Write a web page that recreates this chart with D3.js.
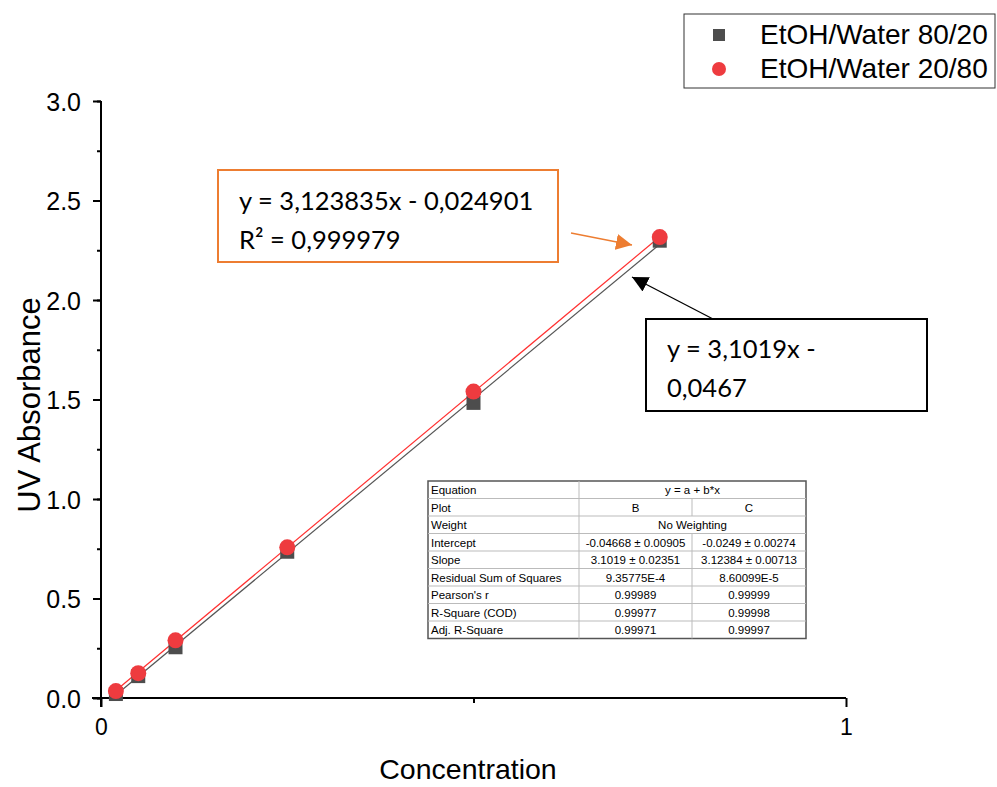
<!DOCTYPE html>
<html>
<head>
<meta charset="utf-8">
<script src="https://cdn.jsdelivr.net/npm/d3@7"></script>
<style>
  body { margin: 0; background: #fff; }
  svg { display: block; }
</style>
</head>
<body>
<svg id="chart" width="997" height="787"></svg>
<script>
// Calibration data: concentration vs UV absorbance for two solvent mixtures
const concentration = [0.02, 0.05, 0.1, 0.25, 0.5, 0.75];
const absorbance8020 = [0.02, 0.11, 0.255, 0.735, 1.483, 2.298];
const absorbance2080 = [0.035, 0.125, 0.29, 0.757, 1.54, 2.316];
const seriesNames = ["EtOH/Water 80/20", "EtOH/Water 20/80"];
const fitSlope = [3.1019, 3.123835];
const fitIntercept = [-0.0467, -0.024901];
const yTicks = [0, 0.5, 1.0, 1.5, 2.0, 2.5, 3.0];
const xTickLabels = [0, 1];

// Linear-fit summary table
const tableRows = [
  ["Equation", "y = a + b*x", null],
  ["Plot", "B", "C"],
  ["Weight", "No Weighting", null],
  ["Intercept", "-0.04668 \u00b1 0.00905", "-0.0249 \u00b1 0.00274"],
  ["Slope", "3.1019 \u00b1 0.02351", "3.12384 \u00b1 0.00713"],
  ["Residual Sum of Squares", "9.35775E-4", "8.60099E-5"],
  ["Pearson's r", "0.99989", "0.99999"],
  ["R-Square (COD)", "0.99977", "0.99998"],
  ["Adj. R-Square", "0.99971", "0.99997"]
];

const colors = { s1: "#4d4d4d", s2: "#ee3b3f", line1: "#555555", line2: "#ff3030" };

const svg = d3.select("#chart");
const x = d3.scaleLinear().domain([0, 1]).range([101, 846]);
const y = d3.scaleLinear().domain([0, 3]).range([698, 101]);

const axisFont = "'Liberation Sans', Arial, sans-serif";
const noteFont = "Lato, 'Open Sans', sans-serif";

// Y axis with major and minor ticks
const yMinor = svg.append("g").attr("transform", `translate(${x(0)},0)`)
  .call(d3.axisLeft(y).tickValues(d3.range(0, 3.001, 0.25)).tickSize(4).tickFormat(""));
yMinor.select(".domain").remove();
const yMajor = svg.append("g").attr("transform", `translate(${x(0)},0)`)
  .call(d3.axisLeft(y).tickValues(yTicks).tickSize(8).tickPadding(12).tickFormat(d3.format(".1f")));
yMajor.selectAll("text").attr("font-family", axisFont).attr("font-size", 25).attr("fill", "#000")
  .attr("dy", "0.36em");
yMajor.select(".domain").remove();
svg.append("line").attr("x1", x(0)).attr("x2", x(0)).attr("y1", y(3)).attr("y2", y(0) + 9)
  .attr("stroke", "#000").attr("stroke-width", 2);

// X axis
const xMinor = svg.append("g").attr("transform", `translate(0,${y(0)})`)
  .call(d3.axisBottom(x).tickValues([0.5]).tickSize(5).tickFormat(""));
xMinor.select(".domain").remove();
const xMajor = svg.append("g").attr("transform", `translate(0,${y(0)})`)
  .call(d3.axisBottom(x).tickValues(xTickLabels).tickSize(9).tickPadding(12).tickFormat(d3.format("d")));
xMajor.select(".domain").remove();
xMajor.selectAll("text").attr("font-family", axisFont).attr("font-size", 23).attr("fill", "#000");
svg.selectAll(".tick line").attr("stroke", "#000").attr("stroke-width", 2);
svg.append("line").attr("x1", x(0) - 9).attr("x2", x(1)).attr("y1", y(0)).attr("y2", y(0))
  .attr("stroke", "#000").attr("stroke-width", 2);

// Axis titles
svg.append("text").attr("x", 468).attr("y", 779).attr("text-anchor", "middle")
  .attr("font-family", axisFont).attr("font-size", 28.5).text("Concentration");
svg.append("text").attr("transform", `translate(40,405) rotate(-90)`).attr("text-anchor", "middle")
  .attr("font-family", axisFont).attr("font-size", 31).text("UV Absorbance");

// Fit lines
const xMin = d3.min(concentration), xMax = d3.max(concentration);
[[0, colors.line1], [1, colors.line2]].forEach(([i, c]) => {
  svg.append("line")
    .attr("x1", x(xMin)).attr("y1", y(fitSlope[i] * xMin + fitIntercept[i]))
    .attr("x2", x(xMax)).attr("y2", y(fitSlope[i] * xMax + fitIntercept[i]))
    .attr("stroke", c).attr("stroke-width", 1.2);
});

// Markers
svg.append("g").selectAll("rect").data(concentration).join("rect")
  .attr("x", (d) => x(d) - 7).attr("y", (d, i) => y(absorbance8020[i]) - 7)
  .attr("width", 14).attr("height", 14).attr("fill", colors.s1);
svg.append("g").selectAll("circle").data(concentration).join("circle")
  .attr("cx", (d) => x(d)).attr("cy", (d, i) => y(absorbance2080[i]))
  .attr("r", 8).attr("fill", colors.s2);

// Legend
svg.append("rect").attr("x", 684).attr("y", 14).attr("width", 311).attr("height", 74)
  .attr("fill", "#fff").attr("stroke", "#333").attr("stroke-width", 1);
svg.append("rect").attr("x", 713).attr("y", 29).attr("width", 12).attr("height", 12).attr("fill", colors.s1);
svg.append("circle").attr("cx", 719).attr("cy", 69).attr("r", 7).attr("fill", colors.s2);
seriesNames.forEach((n, i) => {
  svg.append("text").attr("x", 760).attr("y", 44 + i * 34).attr("font-family", axisFont)
    .attr("font-size", 28).attr("fill", "#000").text(n);
});

// Arrowheads
const defs = svg.append("defs");
[["arrOrange", "#ed7d31"], ["arrBlack", "#000"]].forEach(([id, c]) => {
  defs.append("marker").attr("id", id).attr("viewBox", "0 0 10 10").attr("refX", 10).attr("refY", 5)
    .attr("markerWidth", 16).attr("markerHeight", 16).attr("markerUnits", "userSpaceOnUse")
    .attr("orient", "auto")
    .append("path").attr("d", "M0,0 L10,5 L0,10 Z").attr("fill", c);
});

// Annotation: 20/80 fit
svg.append("rect").attr("x", 218).attr("y", 170).attr("width", 340).attr("height", 92)
  .attr("fill", "#fff").attr("stroke", "#ed7d31").attr("stroke-width", 2);
svg.append("text").attr("x", 239).attr("y", 210).attr("font-family", noteFont).attr("font-size", 25.5)
  .text(`y = ${fitSlope[1].toFixed(6).replace(".", ",")}x - ${Math.abs(fitIntercept[1]).toFixed(6).replace(".", ",")}`);
svg.append("text").attr("x", 239).attr("y", 249).attr("font-family", noteFont).attr("font-size", 25.5)
  .text("R\u00b2 = 0,999979");
svg.append("line").attr("x1", 571).attr("y1", 233).attr("x2", 632).attr("y2", 245)
  .attr("stroke", "#ed7d31").attr("stroke-width", 1.3).attr("marker-end", "url(#arrOrange)");

// Annotation: 80/20 fit
svg.append("rect").attr("x", 646).attr("y", 319).attr("width", 281).attr("height", 92)
  .attr("fill", "#fff").attr("stroke", "#000").attr("stroke-width", 2);
svg.append("text").attr("x", 667).attr("y", 358).attr("font-family", noteFont).attr("font-size", 25.5)
  .text(`y = ${String(fitSlope[0]).replace(".", ",")}x -`);
svg.append("text").attr("x", 667).attr("y", 397).attr("font-family", noteFont).attr("font-size", 25.5)
  .text(`${Math.abs(fitIntercept[0]).toFixed(4).replace(".", ",")}`);
svg.append("line").attr("x1", 713).attr("y1", 319).attr("x2", 632).attr("y2", 277)
  .attr("stroke", "#000").attr("stroke-width", 1.3).attr("marker-end", "url(#arrBlack)");

// Summary table
const tX = 428, tY = 481, rowH = 17.5, c1 = 579, c2 = 692, tR = 806;
const tg = svg.append("g").attr("font-family", axisFont).attr("font-size", 11.5);
tg.append("rect").attr("x", tX).attr("y", tY).attr("width", tR - tX).attr("height", rowH * tableRows.length)
  .attr("fill", "#fff").attr("stroke", "#555").attr("stroke-width", 1.5);
tableRows.forEach((r, i) => {
  const yy = tY + i * rowH;
  if (i > 0) tg.append("line").attr("x1", tX).attr("x2", tR).attr("y1", yy).attr("y2", yy)
    .attr("stroke", "#bbb").attr("stroke-width", 1);
  tg.append("text").attr("x", tX + 3).attr("y", yy + 13).text(r[0]);
  if (r[2] === null) {
    tg.append("text").attr("x", (c1 + tR) / 2).attr("y", yy + 13).attr("text-anchor", "middle").text(r[1]);
  } else {
    tg.append("text").attr("x", (c1 + c2) / 2).attr("y", yy + 13).attr("text-anchor", "middle").text(r[1]);
    tg.append("text").attr("x", (c2 + tR) / 2).attr("y", yy + 13).attr("text-anchor", "middle").text(r[2]);
    tg.append("line").attr("x1", c2).attr("x2", c2).attr("y1", yy).attr("y2", yy + rowH)
      .attr("stroke", "#bbb");
  }
});
tg.append("line").attr("x1", c1).attr("x2", c1).attr("y1", tY).attr("y2", tY + rowH * tableRows.length)
  .attr("stroke", "#bbb");
</script>
</body>
</html>
